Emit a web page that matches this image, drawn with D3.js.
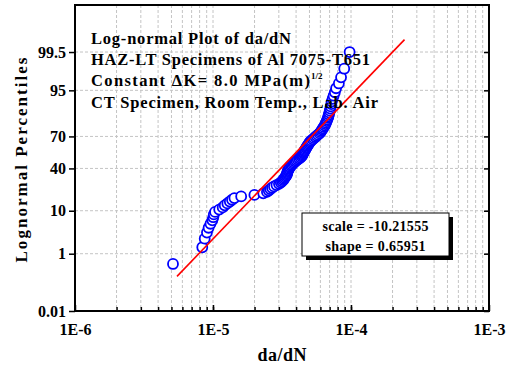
<!DOCTYPE html>
<html>
<head>
<meta charset="utf-8">
<script src="https://cdn.jsdelivr.net/npm/d3@7"></script>
<style>
  body { margin: 0; background: #fff; }
  svg text { font-family: "Liberation Serif", "Times New Roman", serif; font-weight: bold; fill: #000; }
</style>
</head>
<body>
<div id="chart"></div>
<script>
// Axis ticks
var xTickValues = [1e-6, 1e-5, 1e-4, 1e-3];
var xTickLabels = ["1E-6", "1E-5", "1E-4", "1E-3"];
var yTickPct = [0.01, 1, 10, 40, 70, 95, 99.5];
var yTickLabels = ["0.01", "1", "10", "40", "70", "95", "99.5"];

// Plotting positions (percent)
var percentile = [
    0.5, 1.5, 2.5, 3.5, 4.5, 5.5, 6.5, 7.5, 8.5, 9.5,
    10.5, 11.5, 12.5, 13.5, 14.5, 15.5, 16.5, 17.5, 18.5, 19.5,
    20.5, 21.5, 22.5, 23.5, 24.5, 25.5, 26.5, 27.5, 28.5, 29.5,
    30.5, 31.5, 32.5, 33.5, 34.5, 35.5, 36.5, 37.5, 38.5, 39.5,
    40.5, 41.5, 42.5, 43.5, 44.5, 45.5, 46.5, 47.5, 48.5, 49.5,
    50.5, 51.5, 52.5, 53.5, 54.5, 55.5, 56.5, 57.5, 58.5, 59.5,
    60.5, 61.5, 62.5, 63.5, 64.5, 65.5, 66.5, 67.5, 68.5, 69.5,
    70.5, 71.5, 72.5, 73.5, 74.5, 75.5, 76.5, 77.5, 78.5, 79.5,
    80.5, 81.5, 82.5, 83.5, 84.5, 85.5, 86.5, 87.5, 88.5, 89.5,
    90.5, 91.5, 92.5, 93.5, 94.5, 95.5, 96.5, 97.5, 98.5, 99.5
];

// Crack growth rates da/dN, sorted
var daDN = [
    5.13e-6, 8.36e-6, 8.71e-6, 9.04e-6, 9.29e-6, 9.59e-6, 9.89e-6, 1.005e-5, 1.014e-5, 1.035e-5,
    1.109e-5, 1.175e-5, 1.216e-5, 1.271e-5, 1.324e-5, 1.374e-5, 1.429e-5, 1.600e-5, 1.995e-5, 2.312e-5,
    2.460e-5, 2.535e-5, 2.600e-5, 2.679e-5, 2.767e-5, 2.884e-5, 3.006e-5, 3.097e-5, 3.162e-5, 3.221e-5,
    3.266e-5, 3.311e-5, 3.357e-5, 3.396e-5, 3.428e-5, 3.443e-5, 3.459e-5, 3.483e-5, 3.516e-5, 3.548e-5,
    3.581e-5, 3.606e-5, 3.673e-5, 3.733e-5, 3.802e-5, 3.864e-5, 3.936e-5, 4.018e-5, 4.111e-5, 4.207e-5,
    4.305e-5, 4.385e-5, 4.426e-5, 4.457e-5, 4.498e-5, 4.539e-5, 4.581e-5, 4.624e-5, 4.677e-5, 4.732e-5,
    4.775e-5, 4.831e-5, 4.887e-5, 4.943e-5, 5.000e-5, 5.058e-5, 5.164e-5, 5.284e-5, 5.395e-5, 5.521e-5,
    5.636e-5, 5.768e-5, 5.916e-5, 6.012e-5, 6.095e-5, 6.180e-5, 6.266e-5, 6.353e-5, 6.457e-5, 6.531e-5,
    6.592e-5, 6.668e-5, 6.730e-5, 6.808e-5, 6.855e-5, 6.918e-5, 6.966e-5, 7.031e-5, 7.079e-5, 7.129e-5,
    7.194e-5, 7.244e-5, 7.362e-5, 7.482e-5, 7.638e-5, 7.798e-5, 8.166e-5, 8.472e-5, 8.933e-5, 9.772e-5
];

// Lognormal fit (ln da/dN ~ N(scale, shape))
var fitScale = -10.21555;
var fitShape = 0.65951;
var fitLinePct = [0.2, 99.8];

var titleLines = [
    "Log-normal Plot of da/dN",
    "HAZ-LT Specimens of Al 7075-T651",
    "Constant  \u0394K= 8.0 MPa(m)",
    "CT Specimen, Room Temp., Lab. Air"
];
var statLines = ["scale = -10.21555", "shape = 0.65951"];

// Chart dimensions
var svgWidth = 514, svgHeight = 366;
var margin = { left: 75, top: 5, right: 25, bottom: 55 };
var plotW = svgWidth - margin.left - margin.right;
var plotH = svgHeight - margin.top - margin.bottom;

// Inverse normal CDF (Acklam)
function probit(p) {
    var a = [-3.969683028665376e+01, 2.209460984245205e+02, -2.759285104469687e+02, 1.383577518672690e+02, -3.066479806614716e+01, 2.506628277459239e+00];
    var b = [-5.447609879822406e+01, 1.615858368580409e+02, -1.556989798598866e+02, 6.680131188771972e+01, -1.328068155288572e+01];
    var c = [-7.784894002430293e-03, -3.223964580411365e-01, -2.400758277161838e+00, -2.549732539343734e+00, 4.374664141464968e+00, 2.938163982698783e+00];
    var d = [7.784695709041462e-03, 3.224671290700398e-01, 2.445134137142996e+00, 3.754408661907416e+00];
    var plow = 0.02425, q, r;
    if (p < plow) {
        q = Math.sqrt(-2 * Math.log(p));
        return (((((c[0]*q+c[1])*q+c[2])*q+c[3])*q+c[4])*q+c[5]) / ((((d[0]*q+d[1])*q+d[2])*q+d[3])*q+1);
    }
    if (p <= 1 - plow) {
        q = p - 0.5; r = q * q;
        return (((((a[0]*r+a[1])*r+a[2])*r+a[3])*r+a[4])*r+a[5])*q / (((((b[0]*r+b[1])*r+b[2])*r+b[3])*r+b[4])*r+1);
    }
    q = Math.sqrt(-2 * Math.log(1 - p));
    return -(((((c[0]*q+c[1])*q+c[2])*q+c[3])*q+c[4])*q+c[5]) / ((((d[0]*q+d[1])*q+d[2])*q+d[3])*q+1);
}

var svg = d3.select("#chart").append("svg")
    .attr("width", svgWidth)
    .attr("height", svgHeight);

var g = svg.append("g")
    .attr("transform", "translate(" + margin.left + "," + margin.top + ")");

// Scales: log x, probability (normal quantile) y
var x = d3.scaleLog().domain([1e-6, 1e-3]).range([0, plotW]);
var z = d3.scaleLinear().domain([probit(0.0001), probit(0.9999)]).range([plotH, 0]);
var yPct = function (p) { return z(probit(p / 100)); };

// Grid lines
var gridX = x.ticks().filter(v => v > 1.0001e-6 && v < 0.9999e-3);
g.append("g").selectAll("line")
    .data(gridX).enter().append("line")
    .attr("x1", d => x(d)).attr("x2", d => x(d))
    .attr("y1", 0).attr("y2", plotH)
    .attr("stroke", "#c4c4c4").attr("stroke-width", 1)
    .attr("stroke-dasharray", "3,2");

g.append("g").selectAll("line")
    .data(yTickPct.slice(1)).enter().append("line")
    .attr("x1", 0).attr("x2", plotW)
    .attr("y1", d => yPct(d)).attr("y2", d => yPct(d))
    .attr("stroke", "#c4c4c4").attr("stroke-width", 1)
    .attr("stroke-dasharray", "3,2");

// Data points
var points = daDN.map((v, i) => ({ x: v, p: percentile[i] }));
g.append("g").selectAll("circle")
    .data(points).enter().append("circle")
    .attr("cx", d => x(d.x))
    .attr("cy", d => yPct(d.p))
    .attr("r", 5)
    .attr("fill", "#fff")
    .attr("stroke", "#0000ff")
    .attr("stroke-width", 1.8);

// Fitted line
var fitPts = fitLinePct.map(p => ({ x: Math.exp(fitScale + fitShape * probit(p / 100)), p: p }));
g.append("path")
    .datum(fitPts)
    .attr("d", d3.line().x(d => x(d.x)).y(d => yPct(d.p)))
    .attr("stroke", "#ff0000")
    .attr("stroke-width", 1.6)
    .attr("fill", "none");

// Axes
var bottomMinor = d3.axisBottom(x).tickValues(gridX).tickSizeInner(-4).tickSizeOuter(0).tickFormat("");
var bottomMajor = d3.axisBottom(x).tickValues(xTickValues).tickSizeInner(-6).tickSizeOuter(0)
    .tickFormat((d, i) => xTickLabels[i]);
var gb = g.append("g").attr("transform", "translate(0," + plotH + ")");
gb.append("g").call(bottomMinor);
var gbm = gb.append("g").call(bottomMajor);
gbm.selectAll("text").attr("y", 13).attr("font-size", "16px");

var leftAxis = d3.axisLeft(z)
    .tickValues(yTickPct.map(p => probit(p / 100)))
    .tickFormat((d, i) => yTickLabels[i])
    .tickSizeInner(6).tickSizeOuter(0).tickPadding(3);
var gl = g.append("g").call(leftAxis);
gl.selectAll("text").attr("font-size", "16px");

var rightAxis = d3.axisRight(z)
    .tickValues(yTickPct.map(p => probit(p / 100)))
    .tickSizeInner(-5).tickSizeOuter(0).tickFormat("");
g.append("g").attr("transform", "translate(" + plotW + ",0)").call(rightAxis);

g.selectAll(".domain").remove();
g.selectAll(".tick line").attr("stroke", "#000").attr("stroke-width", 1.5);

// Frame
g.append("rect")
    .attr("x", 0).attr("y", 0)
    .attr("width", plotW).attr("height", plotH)
    .attr("fill", "none").attr("stroke", "#000").attr("stroke-width", 2);

// Title block
var titleLens = [200, 279, 219, 287];
var titleY = [44, 65, 86, 108];
titleLines.forEach((t, i) => {
    svg.append("text")
        .attr("x", 91).attr("y", titleY[i])
        .attr("font-size", "16.5px")
        .attr("textLength", titleLens[i])
        .attr("lengthAdjust", "spacing")
        .text(t);
});
svg.append("text")
    .attr("x", 311).attr("y", 79)
    .attr("font-size", "9px")
    .text("1/2");

// Stats box with shadow
var box = { x: 302, y: 213, w: 147, h: 43 };
svg.append("rect")
    .attr("x", box.x + 4).attr("y", box.y + 4)
    .attr("width", box.w).attr("height", box.h)
    .attr("fill", "#000");
svg.append("rect")
    .attr("x", box.x).attr("y", box.y)
    .attr("width", box.w).attr("height", box.h)
    .attr("fill", "#fff").attr("stroke", "#000").attr("stroke-width", 1);
var statLens = [106, 100];
statLines.forEach((t, i) => {
    svg.append("text")
        .attr("x", box.x + box.w / 2).attr("y", box.y + 18 + i * 20)
        .attr("text-anchor", "middle")
        .attr("font-size", "14px")
        .attr("textLength", statLens[i])
        .attr("lengthAdjust", "spacing")
        .text(t);
});

// Axis titles
svg.append("text")
    .attr("x", margin.left + plotW / 2).attr("y", 361)
    .attr("text-anchor", "middle")
    .attr("font-size", "18px")
    .attr("textLength", 49)
    .text("da/dN");

svg.append("text")
    .attr("transform", "translate(27,160) rotate(-90)")
    .attr("text-anchor", "middle")
    .attr("font-size", "17px")
    .attr("textLength", 205)
    .attr("lengthAdjust", "spacing")
    .text("Lognormal Percentiles");
</script>
</body>
</html>
